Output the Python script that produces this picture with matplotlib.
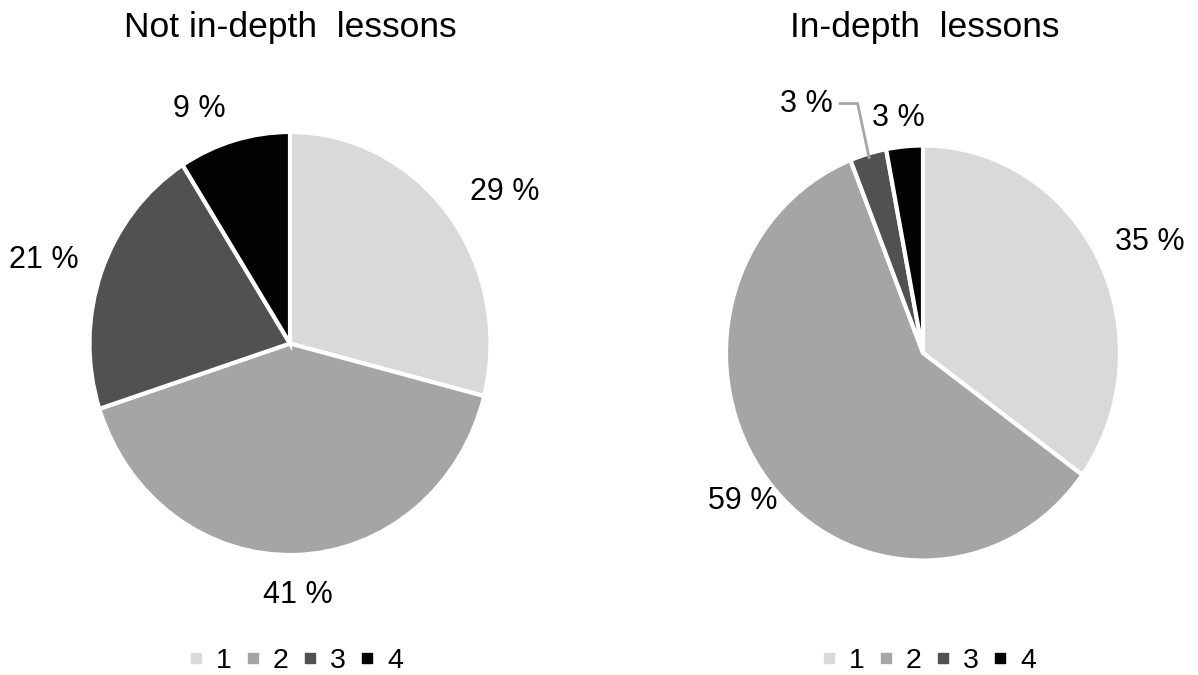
import matplotlib
matplotlib.use('Agg')
import matplotlib.pyplot as plt
import numpy as np
from matplotlib.lines import Line2D

plt.rcParams['font.family'] = ['Liberation Sans', 'DejaVu Sans']

categories = ['1', '2', '3', '4']
not_in_depth = [29, 41, 21, 9]
in_depth = [35, 59, 3, 3]
titles = ['Not in-depth  lessons', 'In-depth  lessons']

colors = ['#d9d9d9', '#a5a5a5', '#515151', '#030303']

# radial distance of each value label, per pie
label_r = [[1.29, 1.19, 1.29, 1.20], [1.27, 1.16, 1.34, 1.14]]
label_nudge = [[-4, 0, 2, 6], [-2, 0, 10, 1]]  # degrees

W, H = 1198, 675
fig = plt.figure(figsize=(W / 100, H / 100), dpi=100)

# pie centres / radii in pixels (slightly taller than wide)
geo = [(290, 343.5, 200.5, 211.5), (923, 353, 197, 207.5)]
XL, YL = 1.4, 1.45


def place_axes(cx, cy, rx, ry):
    w = 2 * XL * rx
    h = 2 * YL * ry
    left = cx - w / 2
    bottom = H - (cy + h / 2)
    return fig.add_axes([left / W, bottom / H, w / W, h / H])


for k, vals in enumerate([not_in_depth, in_depth]):
    cx, cy, rx, ry = geo[k]
    ax = place_axes(cx, cy, rx, ry)
    wedges, _ = ax.pie(vals, colors=colors, startangle=90, counterclock=False,
                       wedgeprops=dict(edgecolor='white', linewidth=3))
    ax.set_aspect('auto')
    ax.set_xlim(-XL, XL)
    ax.set_ylim(-YL, YL)
    ax.axis('off')

    for i, (w, v) in enumerate(zip(wedges, vals)):
        mid = np.deg2rad((w.theta1 + w.theta2) / 2 + label_nudge[k][i])
        r = label_r[k][i]
        x, y = r * np.cos(mid), r * np.sin(mid)
        txt = f'{v} %'
        if k == 1 and i == 2:
            # small slice: label off to the left with a leader line
            tip = np.deg2rad((w.theta1 + w.theta2) / 2)
            ax.annotate(txt, xy=(0.98 * np.cos(tip), 0.98 * np.sin(tip)),
                        xytext=(x, y), ha='center', va='center', fontsize=22,
                        arrowprops=dict(arrowstyle='-', color='#a5a5a5', lw=2,
                                        relpos=(1, 0.5), shrinkA=3, shrinkB=0,
                                        connectionstyle='angle,angleA=0,angleB=102,rad=0'))
        else:
            ax.text(x, y, txt, ha='center', va='center', fontsize=22)

    fig.text((cx + (2 if k else 0)) / W, 1 - 28 / H, titles[k],
             ha='center', va='center', fontsize=25.5)

    handles = [Line2D([], [], marker='s', ls='none', markersize=7,
                      markerfacecolor=c, markeredgecolor=c) for c in colors]
    fig.legend(handles, categories, loc='center', ncol=4,
               bbox_to_anchor=((cx + 6) / W, 1 - 661 / H), frameon=False,
               fontsize=20.5, handlelength=0.5, handletextpad=0.45,
               columnspacing=0.5, borderpad=0)

fig.savefig('out.png', dpi=100, facecolor='white')
